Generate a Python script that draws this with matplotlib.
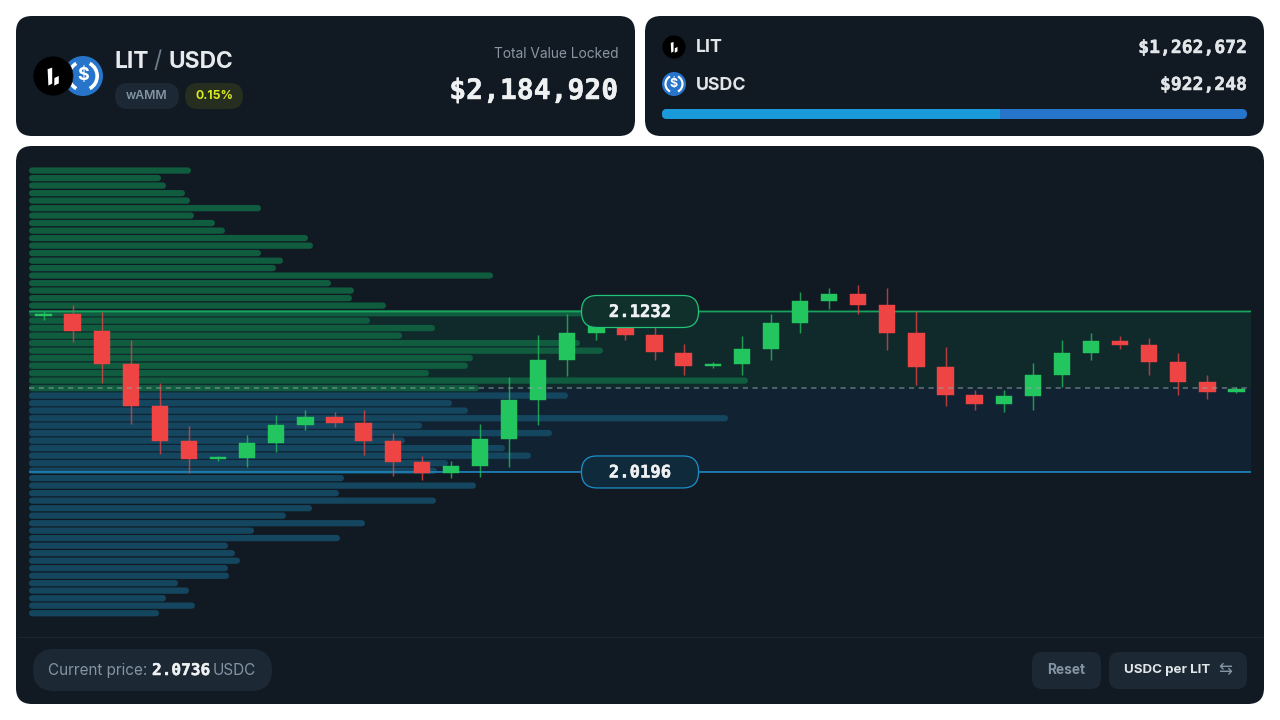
import matplotlib
matplotlib.use("Agg")
import matplotlib.pyplot as plt
import matplotlib.patheffects as pe
from matplotlib.patches import FancyBboxPatch, Circle, Arc, Polygon

# pool numbers
pair_base = "LIT"
pair_quote = "USDC"
tvl_label = "$2,184,920"
token_names = ["LIT", "USDC"]
token_values = [1262672, 922248]
range_upper = 2.1232
range_lower = 2.0196
current_price = 2.0736

# liquidity profile, one bar per price level
liq_prices = [
    2.2142, 2.2093, 2.2045, 2.1996, 2.1948, 2.1899, 2.1851, 2.1803, 2.1754, 2.1706,
    2.1657, 2.1609, 2.1560, 2.1512, 2.1464, 2.1415, 2.1367, 2.1318, 2.1270, 2.1221,
    2.1173, 2.1125, 2.1076, 2.1028, 2.0979, 2.0931, 2.0882, 2.0834, 2.0786, 2.0737,
    2.0689, 2.0640, 2.0592, 2.0543, 2.0495, 2.0447, 2.0398, 2.0350, 2.0301, 2.0253,
    2.0204, 2.0156, 2.0108, 2.0059, 2.0011, 1.9962, 1.9914, 1.9865, 1.9817, 1.9769,
    1.9720, 1.9672, 1.9623, 1.9575, 1.9526, 1.9478, 1.9430, 1.9381, 1.9333, 1.9284,
]
liq_values = [
    162, 132, 137, 156, 161, 232, 165, 186, 196, 279,
    284, 232, 254, 247, 464, 302, 325, 323, 357, 600,
    341, 406, 373, 551, 574, 444, 439, 400, 719, 450,
    539, 423, 439, 699, 393, 523, 376, 476, 502, 419,
    408, 315, 447, 310, 407, 283, 257, 336, 225, 311,
    199, 206, 211, 199, 200, 149, 160, 137, 166, 130,
]

# candles
opens = [
    2.1200, 2.1219, 2.1109, 2.0890, 2.0623, 2.0399, 2.0280, 2.0288, 2.0386, 2.0496,
    2.0550, 2.0509, 2.0393, 2.0259, 2.0188, 2.0233, 2.0408, 2.0662, 2.0916, 2.1090,
    2.1142, 2.1077, 2.0967, 2.0877, 2.0890, 2.0993, 2.1155, 2.1297, 2.1348, 2.1271,
    2.1090, 2.0871, 2.0696, 2.0632, 2.0688, 2.0825, 2.0967, 2.1040, 2.1015, 2.0907,
    2.0780, 2.0714,
]
closes = [
    2.1219, 2.1109, 2.0890, 2.0623, 2.0399, 2.0281, 2.0290, 2.0386, 2.0496, 2.0550,
    2.0511, 2.0393, 2.0259, 2.0188, 2.0233, 2.0408, 2.0662, 2.0916, 2.1090, 2.1174,
    2.1079, 2.0969, 2.0883, 2.0890, 2.0993, 2.1155, 2.1297, 2.1348, 2.1271, 2.1090,
    2.0871, 2.0696, 2.0632, 2.0688, 2.0825, 2.0967, 2.1040, 2.1015, 2.0905, 2.0780,
    2.0714, 2.0733,
]
highs = [
    2.1238, 2.1277, 2.1227, 2.1045, 2.0769, 2.0490, 2.0302, 2.0436, 2.0561, 2.0593,
    2.0586, 2.0597, 2.0445, 2.0296, 2.0264, 2.0503, 2.0812, 2.1082, 2.1217, 2.1226,
    2.1200, 2.1142, 2.1024, 2.0903, 2.1073, 2.1219, 2.1361, 2.1381, 2.1400, 2.1385,
    2.1237, 2.1000, 2.0728, 2.0724, 2.0898, 2.1051, 2.1096, 2.1071, 2.1060, 2.0965,
    2.0821, 2.0746,
]
lows = [
    2.1174, 2.1036, 2.0769, 2.0503, 2.0309, 2.0191, 2.0264, 2.0227, 2.0322, 2.0464,
    2.0485, 2.0307, 2.0173, 2.0141, 2.0156, 2.0162, 2.0227, 2.0501, 2.0814, 2.1051,
    2.1045, 2.0922, 2.0819, 2.0869, 2.0825, 2.0916, 2.1094, 2.1251, 2.1213, 2.0982,
    2.0759, 2.0619, 2.0599, 2.0586, 2.0599, 2.0743, 2.0922, 2.0993, 2.0821, 2.0690,
    2.0664, 2.0703,
]

PANEL = "#111a23"
CHIP = "#1c2833"
UP = "#22c55e"
DOWN = "#ef4444"
SANS = ["Inter", "DejaVu Sans"]
MONO = "DejaVu Sans Mono"

W, H = 1280, 720


def px_axes(zorder):
    a = fig.add_axes([0, 0, 1, 1], zorder=zorder)
    a.set_xlim(0, W)
    a.set_ylim(H, 0)
    a.axis("off")
    return a


def rbox(a, x0, y0, x1, y1, r, fc, ec="none", lw=0, z=1):
    p = FancyBboxPatch((x0, y0), x1 - x0, y1 - y0,
                       boxstyle=f"round,pad=0,rounding_size={r}",
                       fc=fc, ec=ec, lw=lw, zorder=z)
    a.add_patch(p)
    return p


def mono_text(a, x, y, s, fontsize, color="#eef0f2", **kw):
    # the mono bold is a bit light next to the original, thicken it
    t = a.text(x, y, s, color=color, fontsize=fontsize, family=MONO, weight="bold", va="center", **kw)
    t.set_path_effects([pe.withStroke(linewidth=0.35, foreground=color)])
    return t


def lit_logo(a, cx, cy, r):
    a.add_patch(Circle((cx, cy), r, fc="#000000", ec=PANEL, lw=0.6, zorder=4))
    left = [(-0.27, -0.34), (-0.04, -0.42), (-0.04, 0.38), (-0.23, 0.48)]
    right = [(0.07, 0.10), (0.29, 0.0), (0.29, 0.37), (0.06, 0.48)]
    for shape in (left, right):
        a.add_patch(Polygon([(cx + u * r, cy + v * r) for u, v in shape],
                            fc="white", ec="none", zorder=5))


def usdc_logo(a, cx, cy, r, fs):
    a.add_patch(Circle((cx, cy), r, fc="#2775ca", ec="none", zorder=3))
    d = r * 1.42
    lw = r * 0.13
    a.add_patch(Arc((cx, cy), d, d, theta1=-62, theta2=62, color="white", lw=lw, zorder=3.5))
    a.add_patch(Arc((cx, cy), d, d, theta1=118, theta2=242, color="white", lw=lw, zorder=3.5))
    a.text(cx, cy, "$", color="white", fontsize=fs, family=SANS, weight="bold",
           ha="center", va="center", zorder=3.6)


fig = plt.figure(figsize=(12.8, 7.2), dpi=100, facecolor="white")

# panels and header
bg = px_axes(0)
rbox(bg, 16, 16, 635, 136, 16, PANEL)
rbox(bg, 645, 16, 1264, 136, 16, PANEL)
rbox(bg, 16, 146, 1264, 704, 16, PANEL)
bg.plot([17, 1263], [636.5, 636.5], color="#1a2530", lw=0.8, solid_capstyle="butt", zorder=2)

usdc_logo(bg, 83, 76, 20, 13)
lit_logo(bg, 53, 76, 20)
bg.text(115, 61.5, pair_base, color="#e8ebee", fontsize=16.4, family=SANS, weight="bold", va="center")
bg.text(153, 61.5, "/", color="#6f7d8a", fontsize=16.4, family=SANS, weight="normal", va="center")
bg.text(169, 61.5, pair_quote, color="#e8ebee", fontsize=16.4, family=SANS, weight="bold", va="center")
rbox(bg, 115, 83, 179, 109, 13, CHIP)
bg.text(147, 96, "wAMM", color="#8494a3", fontsize=8.8, family=SANS, weight="semibold", ha="center", va="center")
rbox(bg, 185, 83, 243, 109, 13, "#252e1f")
bg.text(214, 96, "0.15%", color="#d9ea1e", fontsize=8.8, family=SANS, weight="bold", ha="center", va="center")
bg.text(618, 53.5, "Total Value Locked", color="#8a97a3", fontsize=9.9, family=SANS, ha="right", va="center")
mono_text(bg, 618, 91, tvl_label, 20.2, ha="right")

# token split
lit_logo(bg, 674, 47, 12)
usdc_logo(bg, 674, 84, 12, 9)
for name, value, y in zip(token_names, token_values, [47, 84]):
    bg.text(696, y + 1, name, color="#e2e6e9", fontsize=12.8, family=SANS, weight="bold", va="center")
    mono_text(bg, 1247, y + 1, f"${value:,}", 13, color="#e2e6e9", ha="right")

bar_x0, bar_x1 = 662, 1247
split_x = bar_x0 + (bar_x1 - bar_x0) * token_values[0] / sum(token_values)
track = rbox(bg, bar_x0, 109, bar_x1, 119, 5, "#2775ca")
left_part = bg.barh(114, split_x - bar_x0, height=10, left=bar_x0, color="#1b9ad9", zorder=2)[0]
left_part.set_clip_path(track)

# footer
rbox(bg, 33, 649, 272, 691, 21, CHIP)
bg.text(48, 670.5, "Current price:", color="#8494a3", fontsize=11, family=SANS, va="center")
mono_text(bg, 152, 670.5, f"{current_price:.4f}", 11.6)
bg.text(213, 670.5, "USDC", color="#8494a3", fontsize=11, family=SANS, va="center")
rbox(bg, 1032, 652, 1101, 689, 10, CHIP)
bg.text(1066.5, 670.5, "Reset", color="#8494a3", fontsize=9.9, family=SANS, weight="bold", ha="center", va="center")
rbox(bg, 1109, 652, 1247, 689, 10, CHIP)
bg.text(1124, 670.5, "USDC per LIT", color="#e2e6e9", fontsize=9.6, family=SANS, weight="bold", va="center")
bg.text(1225, 670, "\u21c6", color="#8494a3", fontsize=12, family=SANS, ha="center", va="center")

# chart area: profile and band underneath, candles in a twin x axis
plot_left, plot_right, plot_top, plot_bottom = 29, 1251, 160, 625
ax = fig.add_axes([plot_left / W, 1 - plot_bottom / H, (plot_right - plot_left) / W, (plot_bottom - plot_top) / H], zorder=1)
ax.set_xlim(0, plot_right - plot_left)
ax.set_ylim(1.9208, 2.2210)
ax.axis("off")

ax.axhspan(current_price, range_upper, color="#102a2c", lw=0, zorder=1)
ax.axhspan(range_lower, current_price, color="#112333", lw=0, zorder=1)

cap = 3.1
liq_colors = ["#0f5c3f" if p >= current_price else "#14475f" for p in liq_prices]
ax.hlines(liq_prices, cap, [v - cap for v in liq_values], colors=liq_colors,
          lw=4.5, capstyle="round", snap=False, zorder=2)
ax.axhline(range_upper, color="#17a25e", lw=1.3, snap=False, zorder=3)
ax.axhline(range_lower, color="#1d7fb3", lw=1.3, snap=False, zorder=3)

ax_c = ax.twiny()
ax_c.set_zorder(2)
ax_c.set_xlim(-0.5, 41.5)
ax_c.axis("off")
idx = list(range(len(opens)))
colors = [UP if c >= o else DOWN for o, c in zip(opens, closes)]
ax_c.vlines(idx, lows, highs, colors=colors, lw=1.05, alpha=0.75, zorder=3)
ax_c.bar(idx, [c - o for o, c in zip(opens, closes)], bottom=opens, width=0.56,
         color=colors, edgecolor=colors, lw=0.3, zorder=4)
ax_c.axhline(current_price, color="#9aa5a8", alpha=0.6, lw=1.1, dashes=(3.4, 3.0), zorder=5)

# range pills sit on top of the candles
top = px_axes(3)
fig.canvas.draw()
for price, edge, fill in [(range_upper, "#22c37a", "#10302c"), (range_lower, "#1f8fc9", "#0f2a3a")]:
    y = H - ax.transData.transform((0, price))[1]
    rbox(top, 581.5, y - 16, 698.5, y + 16, 15.5, fill, ec=edge, lw=0.9)
    mono_text(top, 640, y + 0.5, f"{price:.4f}", 12.4, ha="center", zorder=2)

fig.savefig("out.png", dpi=100, facecolor="white")
